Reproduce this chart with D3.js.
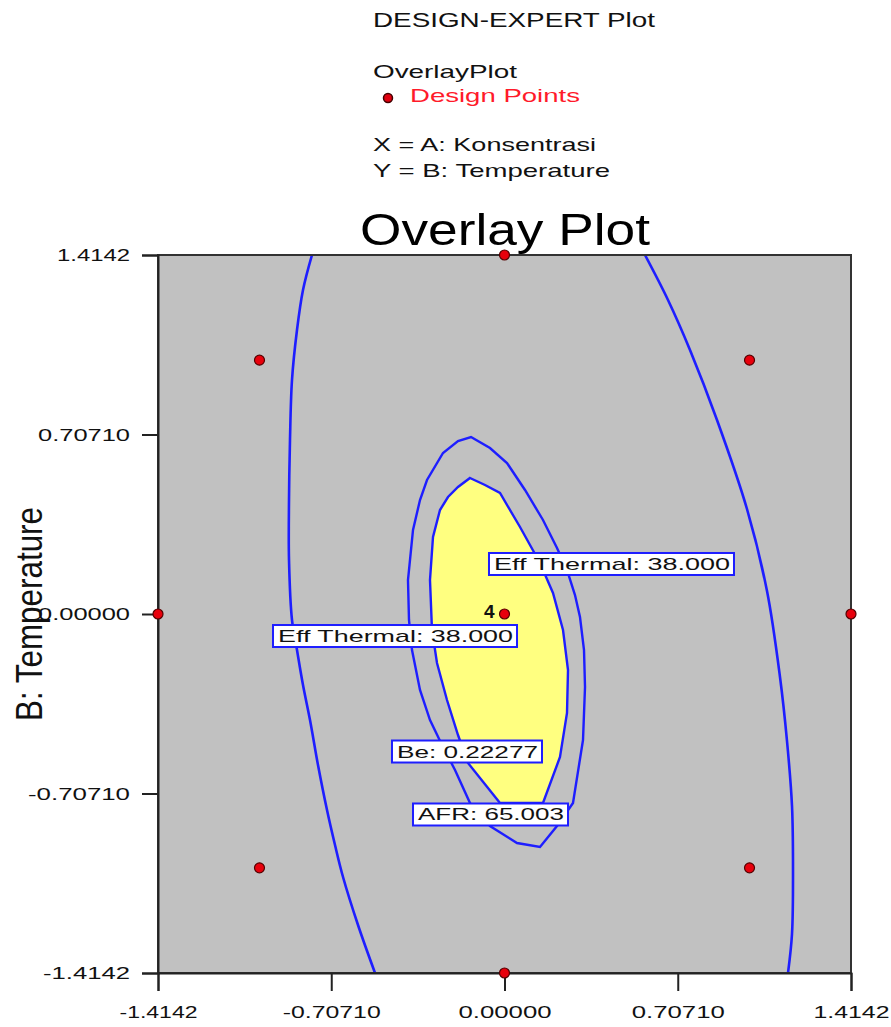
<!DOCTYPE html>
<html><head><meta charset="utf-8">
<script src="https://cdn.jsdelivr.net/npm/d3@7"></script>
<style>body{margin:0;background:#fff}svg{display:block}text{font-family:"Liberation Sans",Arial,sans-serif}</style>
</head><body>
<script>
// ---------- data ----------
const tickValues = [-1.4142, -0.7071, 0, 0.7071, 1.4142];
const xTickLabels = ["-1.4142", "-0.70710", "0.00000", "0.70710", "1.4142"];
const yTickLabels = ["-1.4142", "-0.70710", "0.00000", "0.70710", "1.4142"];

// design points (A, B) ; replicate count
const designPoints = [[0,1.4142],[-1,1],[1,1],[-1.4142,0],[0,0],[1.4142,0],[-1,-1],[1,-1],[0,-1.4142]];
const replicateLabels = [{a:0, b:0, n:"4"}];

// contour lines (A, B)
const leftCurve = [[-0.7857,1.4142],[-0.8224,1.2763],[-0.8469,1.1188],[-0.8673,0.9218],[-0.8755,0.6854],[-0.8795,0.4491],[-0.8795,0.2127],[-0.8673,-0.0236],[-0.8469,-0.1418],[-0.8224,-0.2797],[-0.7938,-0.4176],[-0.7612,-0.5948],[-0.7244,-0.7721],[-0.6918,-0.9100],[-0.6591,-1.0360],[-0.5979,-1.2251],[-0.5285,-1.4142]];
const rightCurve = [[0.5734,1.4142],[0.6673,1.2369],[0.7571,1.0400],[0.8673,0.7642],[0.9897,0.4136],[1.0714,0.0906],[1.1244,-0.2482],[1.1530,-0.5003],[1.1734,-0.7563],[1.1775,-1.0085],[1.1734,-1.2606],[1.1571,-1.4142]];
const bandLoop = [[-0.1367,0.6973],[-0.0592,0.6539],[0.0102,0.5948],[0.0837,0.4885],[0.1571,0.3703],[0.2143,0.2600],[0.2551,0.1733],[0.2877,0.0748],[0.3081,-0.0118],[0.3245,-0.1418],[0.3286,-0.2876],[0.3204,-0.4964],[0.2796,-0.7445],[0.2143,-0.8351],[0.1449,-0.9179],[0.0510,-0.9021],[-0.0592,-0.8351],[-0.1408,-0.7445],[-0.2020,-0.6145],[-0.2551,-0.5160],[-0.3041,-0.4176],[-0.3449,-0.2994],[-0.3775,-0.1418],[-0.3898,-0.0236],[-0.3939,0.1339],[-0.3734,0.3309],[-0.3449,0.4491],[-0.3163,0.5279],[-0.2510,0.6342],[-0.1898,0.6815]];
const sweetSpot = [[-0.1408,0.5357],[-0.0796,0.5082],[-0.0184,0.4767],[0.0633,0.3427],[0.1449,0.2009],[0.1979,0.0827],[0.2388,-0.0630],[0.2592,-0.2206],[0.2551,-0.3900],[0.2265,-0.5633],[0.1571,-0.7445],[-0.0184,-0.7445],[-0.1490,-0.5870],[-0.1898,-0.4767],[-0.2347,-0.3388],[-0.2755,-0.1930],[-0.2959,-0.0630],[-0.3041,0.1339],[-0.2918,0.3033],[-0.2633,0.4097],[-0.2306,0.4609],[-0.1898,0.5003]];

// contour labels: left edge (A), centre (B)
const contourLabels = [
  {text:"Eff Thermal: 38.000", a:-0.0633, b:0.197},
  {text:"Eff Thermal: 38.000", a:-0.9448, b:-0.0867},
  {text:"Be: 0.22277", a:-0.4592, b:-0.5417},
  {text:"AFR: 65.003", a:-0.3734, b:-0.7898}
];
const labelWidths = [245, 244, 150, 155];

const headerLines = ["DESIGN-EXPERT Plot", "OverlayPlot", "Design Points", "X = A: Konsentrasi", "Y = B: Temperature"];
const titleText = "Overlay Plot";
const yTitle = "B: Temperature";

// ---------- drawing ----------
const W = 891, H = 1027;
const L = 158, R = 851, T = 255, B = 973;
const svg = d3.select("body").append("svg").attr("width", W).attr("height", H);
const x = d3.scaleLinear().domain([-1.4142, 1.4142]).range([L, R]);
const y = d3.scaleLinear().domain([-1.4142, 1.4142]).range([B, T]);
const blue = "#1e1eff";

// header
const hdr = [
  {t:headerLines[0], x:373, y:27, w:282, fs:20, c:"#111"},
  {t:headerLines[1], x:373, y:78, w:144, fs:19, c:"#111"},
  {t:headerLines[2], x:410, y:102, w:170, fs:19, c:"#ff1a2a"},
  {t:headerLines[3], x:373, y:151, w:223, fs:19, c:"#111"},
  {t:headerLines[4], x:373, y:177, w:237, fs:19, c:"#111"}
];
svg.selectAll("text.hdr").data(hdr).join("text").attr("class","hdr")
  .attr("x", d=>d.x).attr("y", d=>d.y).attr("font-size", d=>d.fs).attr("fill", d=>d.c)
  .attr("textLength", d=>d.w).attr("lengthAdjust","spacingAndGlyphs").text(d=>d.t);
svg.append("circle").attr("cx",388).attr("cy",98).attr("r",4.5).attr("fill","#e00010").attr("stroke","#400").attr("stroke-width",1.5);

// title
svg.append("text").attr("x", 360).attr("y", 245).attr("font-size", 44).attr("fill","#000")
  .attr("textLength", 290).attr("lengthAdjust","spacingAndGlyphs").text(titleText);

// plot background
svg.append("rect").attr("x", L).attr("y", T).attr("width", R-L).attr("height", B-T).attr("fill", "#c1c1c1");
svg.append("defs").append("clipPath").attr("id","clip").append("rect")
  .attr("x", L).attr("y", T).attr("width", R-L).attr("height", B-T);
const g = svg.append("g").attr("clip-path","url(#clip)");

const line = d3.line().x(d=>x(d[0])).y(d=>y(d[1]));
g.append("path").attr("d", line(sweetSpot)+"Z").attr("fill","#ffff80").attr("stroke",blue).attr("stroke-width",2.4);
g.append("path").attr("d", line(bandLoop)+"Z").attr("fill","none").attr("stroke",blue).attr("stroke-width",2.4);
const smooth = d3.line().x(d=>x(d[0])).y(d=>y(d[1])).curve(d3.curveCatmullRom);
g.append("path").attr("d", smooth(leftCurve)).attr("fill","none").attr("stroke",blue).attr("stroke-width",2.6);
g.append("path").attr("d", smooth(rightCurve)).attr("fill","none").attr("stroke",blue).attr("stroke-width",2.6);

// frame
svg.append("rect").attr("x", L).attr("y", T).attr("width", R-L).attr("height", B-T)
  .attr("fill","none").attr("stroke","#333").attr("stroke-width",2);

// axes
const xAxis = d3.axisBottom(x).tickValues(tickValues).tickSize(18).tickFormat((d,i)=>xTickLabels[i]);
const yAxis = d3.axisLeft(y).tickValues(tickValues).tickSize(16).tickFormat((d,i)=>yTickLabels[i]);
const gx = svg.append("g").attr("transform",`translate(0,${B})`).call(xAxis);
const gy = svg.append("g").attr("transform",`translate(${L},0)`).call(yAxis);
[gx, gy].forEach(a => {
  a.select(".domain").attr("stroke","#222").attr("stroke-width",2);
  a.selectAll(".tick line").attr("stroke","#222").attr("stroke-width",2);
  a.selectAll(".tick text").attr("font-size",17).attr("fill","#111")
   .attr("font-family",'"Liberation Sans",Arial,sans-serif');
});
const xw = [78, 98, 93, 93, 76];
gx.selectAll(".tick text").attr("dy", null).attr("y", 45)
  .attr("textLength",(d,i)=>xw[i]).attr("lengthAdjust","spacingAndGlyphs");
const yw = [87, 102, 92, 92, 73];
gy.selectAll(".tick text").attr("x", -28).attr("dy","0.35em")
  .attr("textLength",(d,i)=>yw[i]).attr("lengthAdjust","spacingAndGlyphs");

// y title
svg.append("text").attr("transform", `translate(42,${(T+B)/2}) rotate(-90)`)
  .attr("text-anchor","middle").attr("font-size",36).attr("fill","#111")
  .attr("textLength",214).attr("lengthAdjust","spacingAndGlyphs").text(yTitle);

// contour labels
const lg = svg.append("g");
contourLabels.forEach((d,i) => {
  const bx = x(d.a), by = y(d.b);
  lg.append("rect").attr("x", bx).attr("y", by-11).attr("width", labelWidths[i]).attr("height", 22)
    .attr("fill","#fff").attr("stroke",blue).attr("stroke-width",2);
  lg.append("text").attr("x", bx+5).attr("y", by+6).attr("font-size",17).attr("fill","#111")
    .attr("textLength", labelWidths[i]-9).attr("lengthAdjust","spacingAndGlyphs").text(d.text);
});

// design points
svg.selectAll("circle.dp").data(designPoints).join("circle").attr("class","dp")
  .attr("cx", d=>x(d[0])).attr("cy", d=>y(d[1])).attr("r", 5)
  .attr("fill","#e8000c").attr("stroke","#500").attr("stroke-width",1.2);
svg.selectAll("text.rep").data(replicateLabels).join("text").attr("class","rep")
  .attr("x", d=>x(d.a)-10).attr("y", d=>y(d.b)+4).attr("text-anchor","end")
  .attr("font-size",19).attr("font-weight","bold").attr("fill","#111").text(d=>d.n);
</script>
</body></html>
